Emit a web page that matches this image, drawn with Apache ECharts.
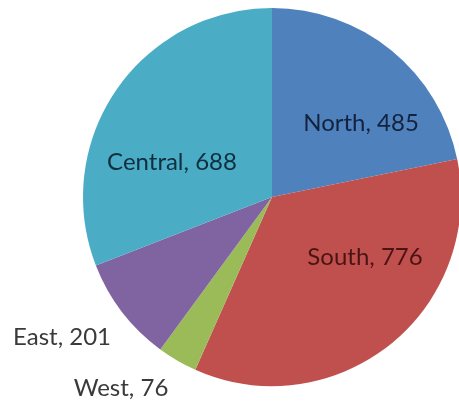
<!DOCTYPE html>
<html>
<head>
<meta charset="utf-8">
<script src="https://cdn.jsdelivr.net/npm/echarts@6/dist/echarts.min.js"></script>
<style>
html,body{margin:0;padding:0;background:#fff;}
#chart{width:459px;height:404px;}
</style>
</head>
<body>
<div id="chart"></div>
<script>
const categories = ['North', 'South', 'West', 'East', 'Central'];
const values = [485, 776, 76, 201, 688];

const sliceColors = ['#4F81BD', '#C0504D', '#9BBB59', '#8064A2', '#4BACC6'];
const labelColors = ['#13233f', '#4a1414', '#3a3a3a', '#3a3a3a', '#0f2f3f'];
const labelPositions = [[361, 123], [365, 257], [121, 388], [62, 337], [172, 162]];

const chart = echarts.init(document.getElementById('chart'), null, {renderer: 'canvas'});
chart.setOption({
  animation: false,
  backgroundColor: '#ffffff',
  series: [{
    type: 'pie',
    center: [272, 197],
    radius: 189,
    startAngle: 90,
    clockwise: true,
    avoidLabelOverlap: false,
    data: categories.map((name, i) => ({
      name: name,
      value: values[i],
      itemStyle: {color: sliceColors[i]},
      label: {color: labelColors[i]}
    })),
    itemStyle: {borderWidth: 0},
    label: {
      show: true,
      position: 'inside',
      formatter: '{b}, {c}',
      fontFamily: 'Lato',
      fontSize: 24,
      fontWeight: 'normal'
    },
    labelLine: {show: false},
    labelLayout: function (p) {
      const pos = labelPositions[p.dataIndex];
      return {x: pos[0], y: pos[1], align: 'center', verticalAlign: 'middle'};
    },
    emphasis: {disabled: true}
  }]
});
</script>
</body>
</html>
